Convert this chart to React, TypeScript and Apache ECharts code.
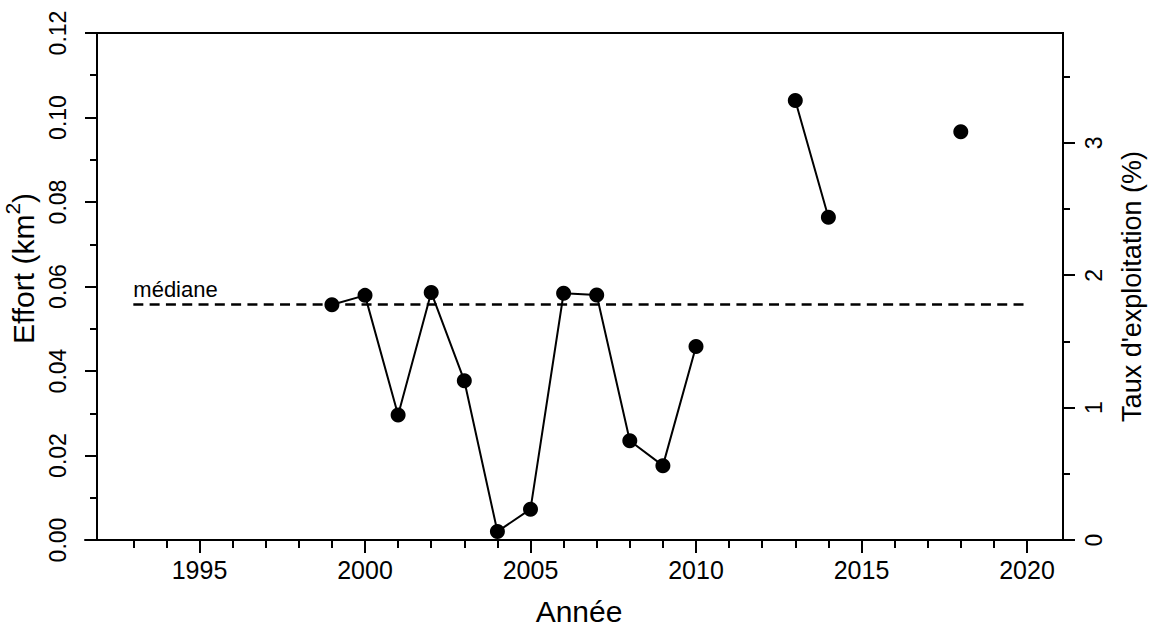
import React, { useEffect, useRef } from "react";
import * as echarts from "echarts";

const years = [1999, 2000, 2001, 2002, 2003, 2004, 2005, 2006, 2007, 2008, 2009, 2010, 2011, 2012, 2013, 2014, 2015, 2016, 2017, 2018];
const effort = [0.0557, 0.0579, 0.0296, 0.0586, 0.0377, 0.0020, 0.0073, 0.0584, 0.0580, 0.0235, 0.0176, 0.0458, null, null, 0.1040, 0.0764, null, null, null, 0.0966];
const majorYearTicks = [1995, 2000, 2005, 2010, 2015, 2020];
const minorYearTicks = [1993, 1994, 1996, 1997, 1998, 1999, 2001, 2002, 2003, 2004, 2006, 2007, 2008, 2009, 2011, 2012, 2013, 2014, 2016, 2017, 2018, 2019];
const medianSpan = [1993, 2020];
const rightTicks = [0, 1, 2, 3];
const rightMinorTicks = [0.5, 1.5, 2.5, 3.5];
const xRange = [1991.54, 2021.39];
const leftRange = [0, 0.12];
const rightRange = [0, 3.83];

const FONT = "Liberation Sans, Arial, Helvetica, sans-serif";
const INK = "#000";

function median(vals: (number | null)[]) {
  const v = vals.filter((x): x is number => x != null).sort((a, b) => a - b);
  const n = v.length;
  return n % 2 ? v[(n - 1) / 2] : (v[n / 2 - 1] + v[n / 2]) / 2;
}

export default function App() {
  const ref = useRef<HTMLDivElement>(null);
  useEffect(() => {
    if (!ref.current) return;
    const chart = echarts.init(ref.current, null, { renderer: "svg" });
    const med = median(effort);
    const lineData = years.map((y, i) => [y, effort[i] == null ? null : effort[i]]);
    const option: any = {
      animation: false,
      backgroundColor: "#fff",
      textStyle: { fontFamily: FONT, color: INK },
      grid: { left: 85, right: 80, top: 33, bottom: 92, containLabel: false, outerBoundsMode: "none" },
      xAxis: [
        {
          type: "value",
          min: xRange[0],
          max: xRange[1],
          position: "bottom",
          splitLine: { show: false },
          axisLine: { show: true, lineStyle: { color: INK, width: 2 } },
          axisTick: { show: true, length: 13, lineStyle: { color: INK, width: 2 }, customValues: majorYearTicks },
          axisLabel: { show: true, customValues: majorYearTicks, fontSize: 25, color: INK, fontFamily: FONT, margin: 17, formatter: (v: number) => String(v) },
          name: "Année",
          nameLocation: "middle",
          nameGap: 56,
          nameTextStyle: { fontSize: 30, color: INK, fontFamily: FONT },
        },
        {
          type: "value",
          min: xRange[0],
          max: xRange[1],
          position: "bottom",
          splitLine: { show: false },
          axisLine: { show: false },
          axisTick: { show: true, length: 8, lineStyle: { color: INK, width: 2 }, customValues: minorYearTicks },
          axisLabel: { show: false },
        },
      ],
      yAxis: [
        {
          type: "value",
          min: leftRange[0],
          max: leftRange[1],
          interval: 0.02,
          position: "left",
          offset: -12,
          splitLine: { show: false },
          axisLine: { show: true, lineStyle: { color: INK, width: 2 } },
          axisTick: { show: true, length: 12, lineStyle: { color: INK, width: 2 } },
          minorTick: { show: true, splitNumber: 2, length: 7, lineStyle: { color: INK, width: 2 } },
          axisLabel: { rotate: 90, fontSize: 23, color: INK, fontFamily: FONT, margin: 28, formatter: (v: number) => v.toFixed(2) },
          name: "{a|Effort (km}{s|2}{a|)}",
          nameLocation: "middle",
          nameRotate: 90,
          nameGap: 56,
          nameTextStyle: {
            color: INK,
            fontFamily: FONT,
            padding: [0, 0, 0, 36],
            rich: {
              a: { fontSize: 30, fontFamily: FONT, color: INK, lineHeight: 36, verticalAlign: "bottom" },
              s: { fontSize: 21, fontFamily: FONT, color: INK, lineHeight: 36, verticalAlign: "top" },
            },
          },
        },
        {
          type: "value",
          min: rightRange[0],
          max: rightRange[1],
          position: "right",
          offset: -10,
          splitLine: { show: false },
          axisLine: { show: true, lineStyle: { color: INK, width: 2 } },
          axisTick: { show: true, length: 12, lineStyle: { color: INK, width: 2 }, customValues: rightTicks },
          axisLabel: { rotate: 90, customValues: rightTicks, fontSize: 23, color: INK, fontFamily: FONT, margin: 19, formatter: (v: number) => String(v) },
          name: "Taux d'exploitation (%)",
          nameLocation: "middle",
          nameRotate: 90,
          nameGap: 55,
          nameTextStyle: { fontSize: 27, color: INK, fontFamily: FONT },
        },
        {
          type: "value",
          min: rightRange[0],
          max: rightRange[1],
          position: "right",
          offset: -10,
          splitLine: { show: false },
          axisLine: { show: false },
          axisTick: { show: true, length: 7, lineStyle: { color: INK, width: 2 }, customValues: rightMinorTicks },
          axisLabel: { show: false },
        },
      ],
      graphic: [
        {
          type: "line",
          shape: { x1: 85, y1: 33, x2: 1064, y2: 33 },
          style: { stroke: INK, lineWidth: 2 },
          silent: true,
        },
      ],
      series: [
        {
          type: "line",
          xAxisIndex: 0,
          yAxisIndex: 0,
          data: lineData,
          connectNulls: false,
          symbol: "circle",
          symbolSize: 15,
          showAllSymbol: true,
          itemStyle: { color: INK },
          lineStyle: { color: INK, width: 2 },
          markLine: {
            silent: true,
            symbol: ["none", "none"],
            lineStyle: { color: INK, width: 2.5, type: [10, 6.3] },
            label: { show: true, position: "insideStartTop", formatter: "médiane", fontSize: 22, color: INK, fontFamily: FONT, distance: [0, 4] },
            data: [[{ coord: [medianSpan[0], med] }, { coord: [medianSpan[1], med] }]],
          },
          z: 3,
        },
      ],
    };
    chart.setOption(option);
    return () => chart.dispose();
  }, []);
  return <div ref={ref} style={{ position: "fixed", left: 0, top: 0, width: 1153, height: 632, background: "#fff" }} />;
}
